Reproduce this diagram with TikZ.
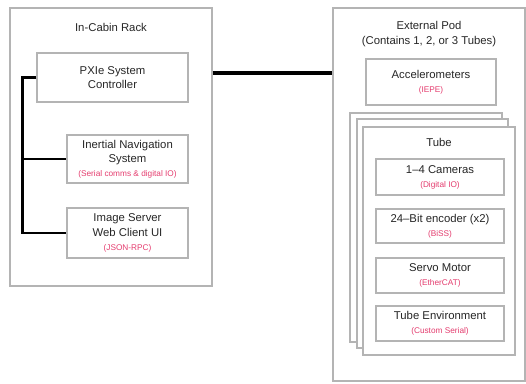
\documentclass[tikz,border=0pt]{standalone}
\usepackage{fontspec}
\setmainfont{Liberation Sans}
\usepackage{tikz}
\usetikzlibrary{positioning}
\usetikzlibrary{fit}
\usetikzlibrary{calc}

\definecolor{edge}{RGB}{180,180,180}
\definecolor{proto}{RGB}{228,60,110}
\newcommand{\proto}[1]{{\fontsize{6.2}{7}\selectfont\textcolor{proto}{#1}}}

\tikzset{
    frame/.style={draw=edge, line width=0.85pt, inner sep=0pt},
    label/.style={align=center, text=black!85, font=\fontsize{8.5}{10.6}\selectfont},
    unit/.style 2 args={frame, label, minimum width=#1, minimum height=#2},
    sheet/.style={frame, fill=white},
    bus/.style={line width=1.6pt},
    link/.style={line width=2.6pt},
}

\begin{document}
\begin{tikzpicture}[x=0.75pt, y=-0.75pt]
    \useasboundingbox (0,0) rectangle (526,383);

    % in-cabin rack
    \node[frame, fit={(10,8) (212,286)}] (rack) {};
    \node[label] (racktitle) at ($(rack.north)+(0,20)$) {In-Cabin Rack};
    \node[unit={113.25pt}{36.75pt}] (pxie) at (112.5,77.5) {PXIe System\\Controller};
    \node[unit={90.75pt}{36pt}] (ins) at (127.5,159)
    {Inertial Navigation\\System\\\proto{(Serial comms \& digital IO)}};
    \node[unit={90.75pt}{37.5pt}] (imgsrv) at (127.5,233)
    {Image Server\\Web Client UI\\\proto{(JSON-RPC)}};

    \coordinate (bustop) at ($(pxie.west)+(-14,0)$);
    \draw[bus] (pxie.west) -- (bustop) |- (imgsrv.west);
    \draw[bus] (bustop |- ins.west) -- (ins.west);

    % external pod
    \node[frame, fit={(333,8) (525,381)}] (pod) {};
    \node[label] (podtitle) at ($(pod.north)+(0,26.5)$)
    {External Pod\\[1pt](Contains 1, 2, or 3 Tubes)};
    \node[unit={97.5pt}{34.5pt}] (accel) at (431,82) {Accelerometers\\\proto{(IEPE)}};

    % stacked tubes
    \node[sheet, fit={(350,113) (502,342)}] (tube3) {};
    \node[sheet, fit={(357,119) (508,348)}] (tube2) {};
    \node[sheet, fit={(363,127) (515,355)}] (tube) {};
    \node[label] (tubetitle) at ($(tube.north)+(0,16)$) {Tube};
    \node[unit={96pt}{27pt}] (cams) at (440,177) {1–4 Cameras\\\proto{(Digital IO)}};
    \node[unit={96pt}{25.5pt}] (encoder) at (440,226)
    {24–Bit encoder (x2)\\\proto{(BiSS)}};
    \node[unit={96pt}{26.25pt}] (servo) at (440,275.5) {Servo Motor\\\proto{(EtherCAT)}};
    \node[unit={96pt}{26.25pt}] (tubeenv) at (440,323.5)
    {Tube Environment\\\proto{(Custom Serial)}};

    \coordinate (tap) at (272,73);
    \draw[link] (tap -| rack.east) -- (tap -| pod.west);
\end{tikzpicture}
\end{document}
